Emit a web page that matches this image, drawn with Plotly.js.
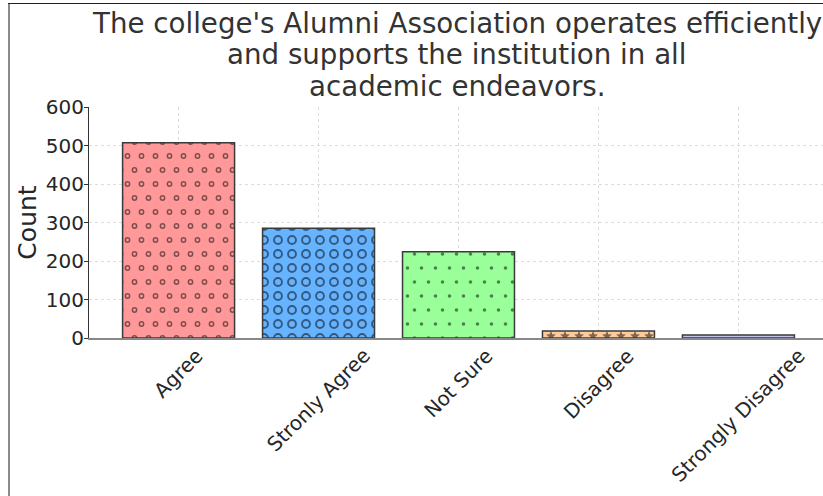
<!DOCTYPE html>
<html>
<head>
<meta charset="utf-8">
<script src="https://cdn.plot.ly/plotly-3.0.1.min.js"></script>
<style>
html,body{margin:0;padding:0;overflow:hidden;background:#fff;width:823px;height:496px;}
#frameL{position:absolute;left:8px;top:3px;width:2px;height:500px;background:#8a8a8a;pointer-events:none;}
#frameT{position:absolute;left:8px;top:3px;width:830px;height:1px;background:#222;pointer-events:none;}
#chart{position:absolute;left:0;top:0;width:830px;height:496px;}
</style>
</head>
<body>
<div id="chart"></div>
<div id="frameL"></div>
<div id="frameT"></div>
<script>
const categories = ["Agree", "Stronly Agree", "Not Sure", "Disagree", "Strongly Disagree"];
const counts = [507, 285, 224, 18, 8];
const barColors = ["#ff9999", "#66b3ff", "#99ff99", "#ffcc99", "#c2c2f0"];
const yTicks = [0, 100, 200, 300, 400, 500, 600];
const titleLines = ["The college's Alumni Association operates efficiently", "and supports the institution in all", "academic endeavors."];

// pattern paths (tile-relative)
function ring(cx, cy, ro, ri) {
  return "M" + (cx + ro) + "," + cy + "A" + ro + "," + ro + " 0 1,1 " + (cx - ro) + "," + cy +
         "A" + ro + "," + ro + " 0 1,1 " + (cx + ro) + "," + cy + "Z" +
         "M" + (cx + ri) + "," + cy + "A" + ri + "," + ri + " 0 1,0 " + (cx - ri) + "," + cy +
         "A" + ri + "," + ri + " 0 1,0 " + (cx + ri) + "," + cy + "Z";
}
function dot(cx, cy, r) {
  return "M" + (cx + r) + "," + cy + "A" + r + "," + r + " 0 1,1 " + (cx - r) + "," + cy +
         "A" + r + "," + r + " 0 1,1 " + (cx + r) + "," + cy + "Z";
}
function star(cx, cy, R, r) {
  let d = "";
  for (let i = 0; i < 10; i++) {
    const a = -Math.PI / 2 + i * Math.PI / 5;
    const rr = i % 2 === 0 ? R : r;
    d += (i === 0 ? "M" : "L") + (cx + rr * Math.cos(a)).toFixed(2) + "," + (cy + rr * Math.sin(a)).toFixed(2);
  }
  return d + "Z";
}
const smallRings = ring(3.5, 7, 2.9, 1.4) + ring(17.5, 7, 2.9, 1.4) + ring(10.5, 21, 2.9, 1.4) + ring(24.5, 21, 2.9, 1.4);
const bigRings = ring(7, 7, 4.9, 3.0);
const dots = dot(3.5, 7, 1.8) + dot(17.5, 7, 1.8) + dot(10.5, 21, 1.8) + dot(24.5, 21, 1.8);
const stars = star(0, 5, 5.2, 2.3) + star(14, 5, 5.2, 2.3) + star(28, 5, 5.2, 2.3) + star(7, 19, 5.2, 2.3) + star(21, 19, 5.2, 2.3);

const patterns = [
  {path: smallRings, size: 28},
  {path: bigRings, size: 14},
  {path: dots, size: 28},
  {path: stars, size: 28},
  {path: "", size: 8}
];

const traces = categories.map((c, i) => ({
  type: "bar",
  x: [c],
  y: [counts[i]],
  width: 0.8,
  marker: {
    color: barColors[i],
    line: {color: "#3a3a3a", width: 1.5},
    pattern: patterns[i].path ? {path: patterns[i].path, size: patterns[i].size, fgcolor: "#000", bgcolor: barColors[i], fillmode: "overlay", solidity: 1} : {shape: ""}
  },
  showlegend: false,
  hoverinfo: "x+y"
}));

// plot area: top 107px, height 231px -> paper y from pixel row
const plotTop = 107, plotH = 231;
const titleCenters = [23, 54, 86];
const annotations = titleLines.map((t, i) => ({
  text: t, xref: "paper", yref: "paper", x: 0.4985, y: (plotTop + plotH - titleCenters[i]) / plotH,
  xanchor: "center", yanchor: "middle", showarrow: false,
  font: {size: 27.7, color: "#333", family: "DejaVu Sans"}
})).concat(categories.map(c => ({
  text: c, xref: "x", yref: "paper", x: c, y: -3 / plotH,
  xanchor: "center", yanchor: "top", textangle: -45, showarrow: false,
  font: {size: 20, color: "#262626", family: "DejaVu Sans"}
})));

const layout = {
  width: 830,
  height: 496,
  margin: {l: 89, r: 2, t: 107, b: 158},
  paper_bgcolor: "#fff",
  plot_bgcolor: "#fff",
  font: {family: "DejaVu Sans", color: "#262626"},
  bargap: 0.2,
  annotations: annotations,
  xaxis: {
    type: "category",
    categoryorder: "array",
    categoryarray: categories,
    range: [-0.64, 4.64],
    showticklabels: false,
    showline: true, linecolor: "#888", linewidth: 1.5,
    showgrid: true, gridcolor: "#d4d4d4", gridwidth: 0.8, griddash: "dot",
    ticks: "", zeroline: false
  },
  yaxis: {
    range: [0, 600],
    tickvals: yTicks,
    ticktext: yTicks.map(String),
    tickfont: {size: 20, color: "#262626"},
    ticks: "outside", ticklen: 4, tickcolor: "#333", tickwidth: 1,
    ticklabelstandoff: -4,
    showline: true, linecolor: "#333", linewidth: 1,
    showgrid: true, gridcolor: "#d4d4d4", gridwidth: 0.8, griddash: "dot",
    zeroline: false,
    title: {text: "Count", font: {size: 25, color: "#262626"}, standoff: 2}
  }
};

Plotly.newPlot("chart", traces, layout, {displayModeBar: false, staticPlot: true});
</script>
</body>
</html>
